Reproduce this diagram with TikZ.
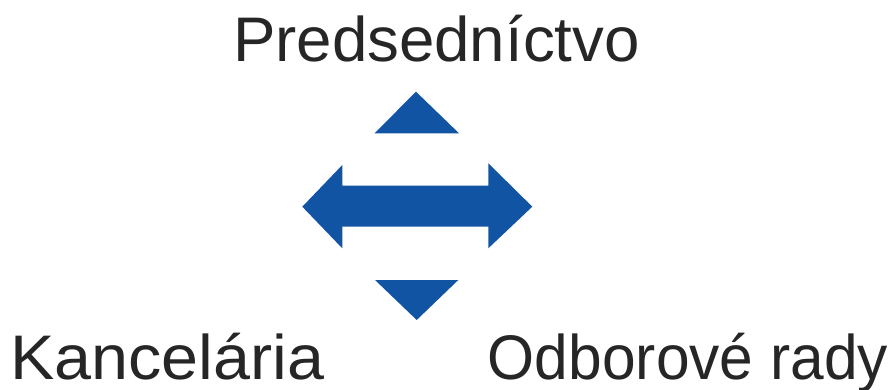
\documentclass[tikz,border=0pt]{standalone}
\usepackage{fontspec}
\setmainfont{Liberation Sans}
\definecolor{arrowblue}{RGB}{17,84,163}
\definecolor{textgray}{RGB}{38,38,38}
\begin{document}
\begin{tikzpicture}[x=1pt,y=-1pt,
  lbl/.style={inner sep=0pt,outer sep=0pt,text=textgray,font=\fontsize{63}{70}\selectfont},
  shapefill/.style={fill=arrowblue,draw=none}]
\useasboundingbox (0,0) rectangle (891,390);
% labels
\node[lbl,anchor=base west] (pred) at (233,62) {\scalebox{1.01}[1]{Predsedníctvo}};
\node[lbl,anchor=base west] (kanc) at (10.5,379) {\scalebox{1.055}[1]{Kancelária}};
\node[lbl,anchor=base east] (odb) at (888,379) {\scalebox{0.96}[1]{Odborové rady}};
% up triangle
\fill[shapefill] (374.5,133.3) -- (416,91.7) -- (459,133.3) -- cycle;
% double arrow
\fill[shapefill] (302.3,206.7) -- (342.3,165) -- (342.3,185.7) -- (488.3,185.7)
  -- (488.3,163.3) -- (532.3,206.7) -- (488.3,248.3) -- (488.3,226.7)
  -- (342.3,226.7) -- (342.3,248.3) -- cycle;
% down triangle
\fill[shapefill] (375,280) -- (458.3,280) -- (416.7,320) -- cycle;
\end{tikzpicture}
\end{document}
